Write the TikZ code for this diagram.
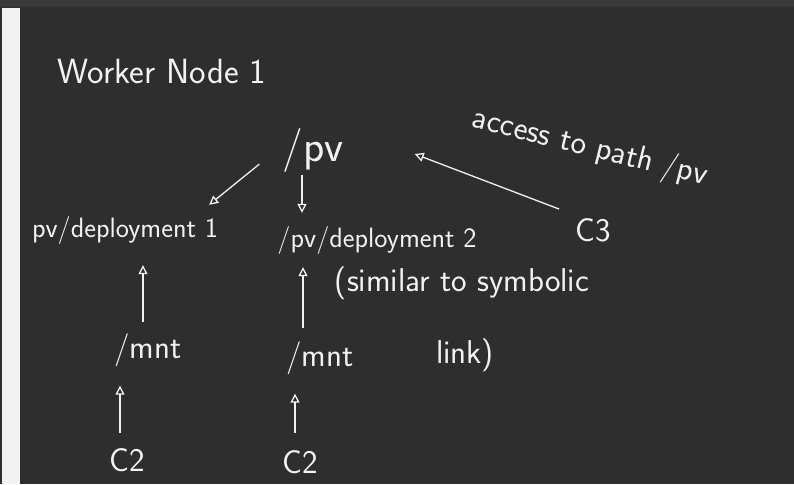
\documentclass[tikz,border=0pt]{standalone}
\usepackage{xcolor}
\usepackage{tikz}
\usetikzlibrary{arrows.meta, positioning, calc}
\definecolor{board}{HTML}{2E2E2E}
\definecolor{topbar}{HTML}{3B3B3B}
\definecolor{chalk}{HTML}{F2F2F2}
\tikzset{
	hand/.style={text=chalk, font=\sffamily\fontsize{33}{38}\selectfont, inner sep=1pt},
	smallhand/.style={hand, font=\sffamily\fontsize{28}{32}\selectfont},
	bighand/.style={hand, font=\sffamily\fontsize{44}{48}\selectfont},
	arr/.style={-{Triangle[open, length=9pt, width=9pt]}, draw=chalk, line width=1.3pt},
}

\begin{document}
\begin{tikzpicture}[x=1pt, y=-1pt]
			% board and frame
			\useasboundingbox (0,0) rectangle (794,484);
			\fill[board] (0,0) rectangle (794,484);
			\fill[topbar] (0,0) rectangle (794,6);
			\fill[black!80] (0,6) rectangle (794,8);
			\fill[chalk] (2,8) rectangle (20,484);
			
			\node[hand, font=\sffamily\fontsize{35}{40}\selectfont] (title) at (162,71) {Worker Node 1};
			\node[bighand] (pv) at (313,150) {/pv};
			\node[smallhand] (dep1) at (125,230) {pv/deployment 1};
			\node[smallhand] (dep2) at (377,240) {/pv/deployment 2};
			\node[hand] (cthree) at (593,230) {C3};
			\node[hand, rotate=-14] (access) at (590,148) {access to path /pv};
			\node[hand] (similar) at (462,283) {(similar to symbolic};
			\node[hand] (link) at (465,355) {link)};
			\node[hand] (mntA) at (148,350) {/mnt};
			\node[hand] (mntB) at (320,358) {/mnt};
			\node[hand] (ctwoA) at (127,460) {C2};
			\node[hand] (ctwoB) at (300,462) {C2};
			
			\draw[arr] ([xshift=-22pt, yshift=9pt]pv.south west) -- ([xshift=-10pt, yshift=10pt]dep1.north east);
			\draw[arr, shorten <=2pt, shorten >=12pt] ([xshift=-11pt]pv.south) -- ([xshift=-11pt]pv.south |- dep2.north);
			\draw[arr] ([xshift=-15pt, yshift=8pt]cthree.north west) -- ([xshift=70pt, yshift=-4pt]pv.east);
			\draw[arr, shorten <=10pt, shorten >=20pt] ([xshift=-5pt]mntA.north) -- ([xshift=-5pt]mntA.north |- dep1.south);
			\draw[arr, shorten <=12pt, shorten >=12pt] ([xshift=-17pt]mntB.north) -- ([xshift=-17pt]mntB.north |- dep2.south);
			\draw[arr, shorten <=14pt, shorten >=18pt] ([xshift=-7pt]ctwoA.north) -- ([xshift=-7pt]ctwoA.north |- mntA.south);
			\draw[arr, shorten <=16pt, shorten >=18pt] ([xshift=-5pt]ctwoB.north) -- ([xshift=-5pt]ctwoB.north |- mntB.south);
		\end{tikzpicture}
\end{document}
